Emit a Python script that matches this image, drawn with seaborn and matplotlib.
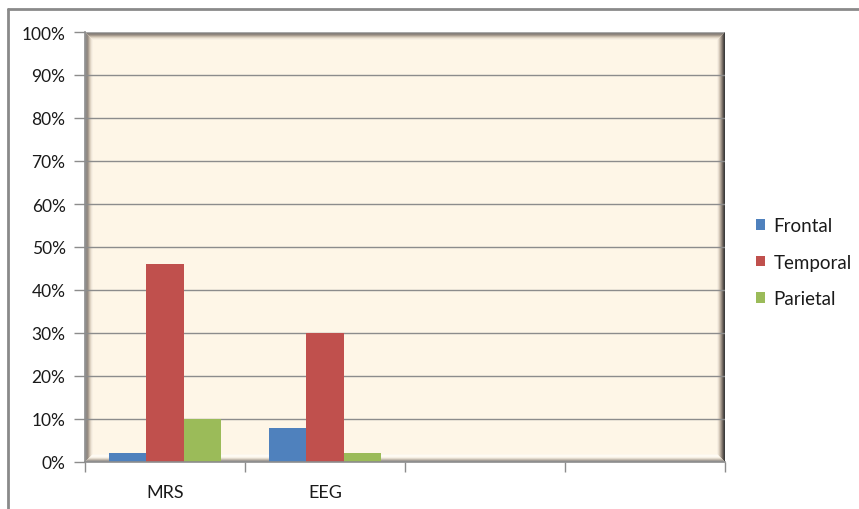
import numpy as np
import pandas as pd
import matplotlib
matplotlib.use("Agg")
import matplotlib.pyplot as plt
from matplotlib.patches import Polygon
from matplotlib.lines import Line2D
import seaborn as sns

# Data
tests = ["MRS", "EEG"]
slots = 4  # two empty category slots follow the two tests
regions = ["Frontal", "Temporal", "Parietal"]
frontal = [0.02, 0.08]
temporal = [0.46, 0.30]
parietal = [0.10, 0.02]
y_ticks = [0.0, 0.1, 0.2, 0.3, 0.4, 0.5, 0.6, 0.7, 0.8, 0.9, 1.0]
y_labels = ["0%", "10%", "20%", "30%", "40%", "50%", "60%", "70%", "80%", "90%", "100%"]

palette = {"Frontal": "#4F81BD", "Temporal": "#C0504D", "Parietal": "#9BBB59"}

df = pd.DataFrame({
    "test": tests * 3,
    "region": [r for r in regions for _ in tests],
    "share": frontal + temporal + parietal,
})

sns.set_theme(style="white")
plt.rcParams["font.family"] = ["Lato", "DejaVu Sans"]

W, H, DPI = 859, 510, 100
fig = plt.figure(figsize=(W / DPI, H / DPI), dpi=DPI)

# chart-area border (top and left edges)
fig.add_artist(Line2D([8 / W, 1.0], [1 - 10 / H, 1 - 10 / H], transform=fig.transFigure,
                      color="#8a8a8a", lw=2))
fig.add_artist(Line2D([8 / W, 8 / W], [0, 1 - 10 / H], transform=fig.transFigure,
                      color="#8a8a8a", lw=2))

ax_l, ax_r, ax_t, ax_b = 85, 725, 33, 463
ax = fig.add_axes([ax_l / W, 1 - ax_b / H, (ax_r - ax_l) / W, (ax_b - ax_t) / H])
ax.set_facecolor("#FEF6E7")

sns.barplot(data=df, x="test", y="share", hue="region", order=tests, hue_order=regions,
            palette=palette, width=0.706, gap=0, saturation=1, linewidth=0,
            errorbar=None, ax=ax, zorder=3, legend=True)

x0, x1 = -0.5, slots - 0.5
ax.set_xlim(x0, x1)
ax.set_ylim(0, 1)

# bevelled wall frame, drawn in pixel steps
pw, ph = ax_r - ax_l, ax_b - ax_t
px = lambda p: x0 + p / pw * (x1 - x0)
py = lambda p: p / ph


def strip(side, i):
    a, b = i, i + 1
    if side == "left":
        pts = [(a, a), (b, b), (b, ph - b), (a, ph - a)]
    elif side == "right":
        pts = [(pw - a, a), (pw - b, b), (pw - b, ph - b), (pw - a, ph - a)]
    elif side == "top":
        pts = [(a, ph - a), (b, ph - b), (pw - b, ph - b), (pw - a, ph - a)]
    else:
        pts = [(a, a), (b, b), (pw - b, b), (pw - a, a)]
    return [(px(u), py(v)) for u, v in pts]


shades = {
    "left": ["#a9a9a9", "#8f8a85", "#948b83", "#ab9f92", "#c8bcac", "#dfd4c4", "#efe6d8", "#f8f0e3"],
    "top": ["#a9a9a9", "#85807b", "#8f867e", "#a89c8f", "#c6baaa", "#ded3c3", "#efe6d8", "#f8f0e3"],
    "right": ["#3c3c3c", "#55504b", "#766c64", "#978c81", "#b6aa9c", "#d3c7b7", "#e8ded0", "#f6eee1"],
    "bottom": ["#9a9a9a", "#a59f98", "#c6bdb1", "#e2dacd", "#f6f0e5", "#fdf9f1", "#fefbf4", "#fdf7ec"],
}
for side, cols in shades.items():
    for i, c in enumerate(cols):
        ax.add_patch(Polygon(strip(side, i), closed=True, facecolor=c, edgecolor="none",
                             zorder=0.5))

# horizontal gridlines across the wall
ax.hlines(y_ticks[1:-1], x0, x1, colors="#8c8c8c", lw=1, zorder=1.5)

# axes lines and ticks
for s in ["top", "right"]:
    ax.spines[s].set_visible(False)
for s in ["left", "bottom"]:
    ax.spines[s].set_visible(True)
    ax.spines[s].set_color("#8c8c8c")
    ax.spines[s].set_linewidth(1.2)
    ax.spines[s].set_zorder(4)

ax.set_yticks(y_ticks)
ax.set_yticklabels(y_labels)
ax.tick_params(axis="y", which="major", left=True, length=8, width=1, color="#8c8c8c",
               pad=6, labelsize=12.5, labelcolor="#1a1a1a")

ax.set_xticks(np.arange(x0, x1 + 0.01, 1.0))
ax.set_xticklabels([""] * (slots + 1))
ax.set_xticks(range(len(tests)), minor=True)
ax.set_xticklabels(tests, minor=True)
ax.tick_params(axis="x", which="major", bottom=True, length=7, width=1, color="#8c8c8c")
ax.tick_params(axis="x", which="minor", bottom=True, length=0, pad=16, labelsize=13,
               labelcolor="#1a1a1a")
ax.set_xlabel("")
ax.set_ylabel("")

handles, labels = ax.get_legend_handles_labels()
ax.legend(handles, labels, loc="center left", bbox_to_anchor=(739 / W, 1 - 263 / H),
          bbox_transform=fig.transFigure, frameon=False, fontsize=13.5,
          handlelength=0.5, handleheight=0.5, handletextpad=0.45, labelspacing=1.03,
          labelcolor="#1a1a1a")

fig.savefig("out.png", dpi=DPI, facecolor="white")
